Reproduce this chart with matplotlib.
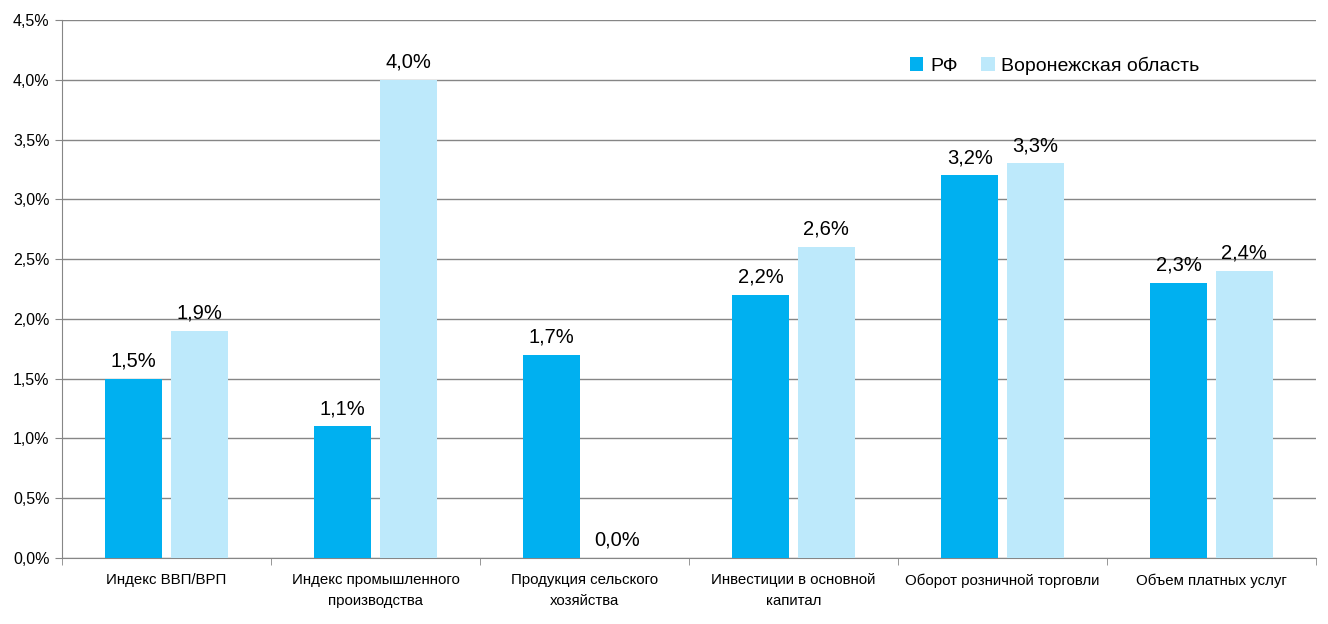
import matplotlib
matplotlib.use("Agg")
import matplotlib.pyplot as plt
import numpy as np
from matplotlib.ticker import FuncFormatter, MultipleLocator

categories = ["Индекс ВВП/ВРП", "Индекс промышленного\nпроизводства",
              "Продукция сельского\nхозяйства", "Инвестиции в основной\nкапитал",
              "Оборот розничной торговли", "Объем платных услуг"]
rf = [1.5, 1.1, 1.7, 2.2, 3.2, 2.3]
vrn = [1.9, 4.0, 0.0, 2.6, 3.3, 2.4]
series_names = ["РФ", "Воронежская область"]

plt.rcParams['font.family'] = ['Liberation Sans Narrow', 'Liberation Sans', 'DejaVu Sans']

fig = plt.figure(figsize=(13.28, 6.24), dpi=100)
ax = fig.add_axes([62/1328, 1-558/624, (1316-62)/1328, (558-20)/624])

x = np.arange(len(categories))
w = 0.273
c1 = "#00B0F0"
c2 = "#BDE9FB"
b1 = ax.bar(x - 0.157, rf, w, color=c1, label=series_names[0], zorder=3)
b2 = ax.bar(x + 0.157, vrn, w, color=c2, label=series_names[1], zorder=3)

def fmt(v):
    return f"{v:.1f}".replace(".", ",") + "%"

for bars, vals in ((b1, rf), (b2, vrn)):
    for b, v in zip(bars, vals):
        ax.annotate(fmt(v), (b.get_x() + b.get_width()/2, v), xytext=(0, 6),
                    textcoords="offset points", ha="center", va="bottom", fontsize=14.5)

ax.set_xlim(-0.5, len(categories) - 0.5)
ax.set_ylim(0, 4.5)
ax.yaxis.set_major_locator(MultipleLocator(0.5))
ax.yaxis.set_major_formatter(FuncFormatter(lambda v, p: fmt(v)))
ax.grid(axis="y", color="#868686", linewidth=1, zorder=0)
for s in ["top", "right"]:
    ax.spines[s].set_visible(False)
ax.spines["left"].set_color("#868686")
ax.spines["bottom"].set_color("#868686")
ax.tick_params(axis="y", length=5, color="#868686", labelsize=11.5, pad=4)
ax.set_xticks(x)
ax.set_xticklabels(categories, fontsize=10.8, linespacing=1.6)
ax.tick_params(axis="x", length=0, pad=11)
ax.set_xticks(np.arange(len(categories) + 1) - 0.5, minor=True)
ax.tick_params(axis="x", which="minor", length=5, color="#868686")

ax.legend(loc="upper left", bbox_to_anchor=(0.662, 0.965), ncol=2, frameon=False,
          fontsize=14, handlelength=0.7, handleheight=0.7, handletextpad=0.35,
          columnspacing=1.2)

fig.savefig("out.png", dpi=100)
